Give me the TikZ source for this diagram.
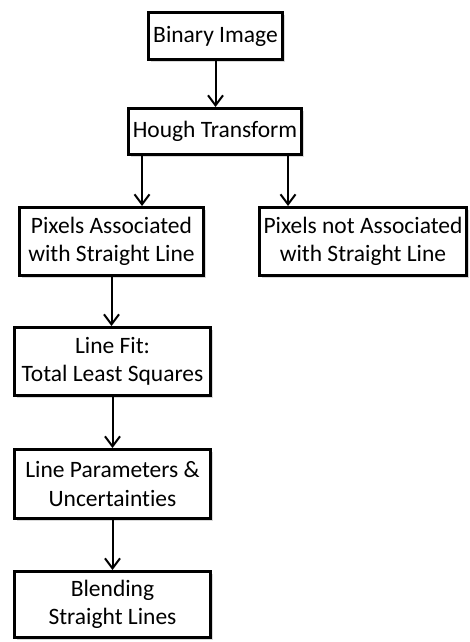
\documentclass[tikz,border=0pt]{standalone}
\usepackage{fontspec}
\setmainfont{Carlito}[Ligatures={NoCommon,NoRequired,NoContextual}]
\usetikzlibrary{arrows.meta,shadows}
\begin{document}
\begin{tikzpicture}[x=1pt,y=-1pt,
  box/.style={draw=black, line width=3pt, fill=white, align=center, inner sep=0pt,
    font=\fontsize{23.5}{28.6}\selectfont,
    drop shadow={shadow xshift=2.5pt, shadow yshift=-2.5pt, opacity=0.3, fill=gray}},
  arr/.style={line width=2pt, -{Straight Barb[length=10pt,width=15pt,line width=2pt]}}]
\useasboundingbox (0,0) rectangle (470,642);
\node[box, minimum width=134pt, minimum height=47pt] (bin) at (215.5,36) {Binary Image};
\node[box, minimum width=173pt, minimum height=46pt] (hough) at (215,131.5) {Hough Transform};
\node[box, minimum width=184pt, minimum height=68pt] (pa) at (111.5,241.5) {Pixels Associated\\with Straight Line};
\node[box, minimum width=207pt, minimum height=68pt] (pna) at (363,241.5) {Pixels not Associated\\with Straight Line};
\node[box, minimum width=196pt, minimum height=68pt] (fit) at (112.5,361.5) {Line Fit:\\Total Least Squares};
\node[box, minimum width=196pt, minimum height=69pt] (par) at (112.5,484) {Line Parameters \&\\Uncertainties};
\node[box, minimum width=196pt, minimum height=66pt] (blend) at (112.5,604.5) {Blending\\Straight Lines};
\coordinate (c1) at (142,0);
\coordinate (c2) at (288,0);
\draw[arr] (bin.south) -- (hough.north -| bin.south);
\draw[arr] (hough.south -| c1) -- (pa.north -| c1);
\draw[arr] (hough.south -| c2) -- (pna.north -| c2);
\draw[arr] (pa.south) -- (fit.north -| pa.south);
\draw[arr] (fit.south) -- (par.north);
\draw[arr] (par.south) -- (blend.north);
\end{tikzpicture}
\end{document}
